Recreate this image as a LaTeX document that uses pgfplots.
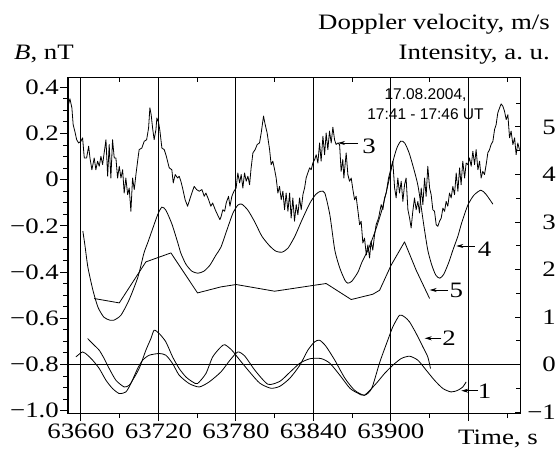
\documentclass[border=0pt]{standalone}
\usepackage{fontspec}
\setmainfont{Liberation Serif}[FakeStretch=1.22]
\newfontfamily\sansfont{Liberation Sans}
\usepackage{pgfplots}
\pgfplotsset{compat=1.18}
\usetikzlibrary{arrows.meta}
\begin{document}
\fontsize{22pt}{26pt}\selectfont
\begin{tikzpicture}
\path[use as bounding box] (-68pt,-37pt) rectangle (488pt,413pt);
\begin{axis}[
  at={(0pt,0pt)}, anchor=south west,
  width=452pt, height=335pt, scale only axis,
  xmin=63650, xmax=64000, ymin=-1.01, ymax=0.44,
  scaled x ticks=false, scaled y ticks=false,
  xtick={63660,63720,63780,63840,63900,63960},
  xticklabels={63660,63720,63780,63840,63900,{}},
  minor xtick={63690,63750,63810,63870,63930,63990},
  ytick={-1,-0.8,-0.6,-0.4,-0.2,0,0.2,0.4},
  yticklabels={−1.0,−0.8,−0.6,−0.4,−0.2,0,0.2,0.4},
  minor ytick={-0.95,-0.9,-0.85,-0.75,-0.7,-0.65,-0.55,-0.5,-0.45,-0.35,-0.3,-0.25,-0.15,-0.1,-0.05,0.05,0.1,0.15,0.25,0.3,0.35},
  xtick pos=left, ytick pos=left,
  tick align=outside,
  major tick length=8pt, minor tick length=5pt,
  tick style={black, line width=0.9pt},
  axis line style={black, line width=1pt},
  xmajorgrids, major grid style={black, line width=1pt},
  yticklabel style={anchor=east, inner sep=0pt, xshift=-1pt},
  xticklabel style={anchor=north, inner sep=0pt, yshift=-3pt},
]
\addplot[black, line width=1.6pt, forget plot] coordinates {(63650,-0.8) (64000,-0.8)};
% curve 3 (B)
\addplot[black, line width=0.8pt, line join=round] coordinates {
(63650.3,0.324) (63651.5,0.350) (63653.0,0.311) (63654.0,0.238) (63655.6,0.202) (63656.7,0.173) (63658.2,0.159) (63660.0,0.166) (63661.3,0.181) (63662.6,0.094) (63664.4,0.094) (63666.0,0.145) (63667.0,0.094) (63668.5,0.043) (63670.3,0.094) (63671.6,0.043) (63672.9,0.080) (63674.2,0.058) (63675.5,0.101) (63676.8,0.065) (63678.0,0.116) (63679.4,0.173) (63680.7,0.015) (63681.9,0.152) (63683.2,0.007) (63684.5,0.173) (63685.8,0.094) (63687.1,0.094) (63688.4,0.007) (63689.7,0.058) (63691.0,0.007) (63692.3,0.043) (63693.5,-0.058) (63694.8,0.007) (63696.2,-0.065) (63697.4,-0.036) (63698.7,-0.137) (63700.0,0.007) (63701.3,-0.043) (63702.6,0.022) (63703.9,0.080) (63705.1,0.130) (63707.2,0.137) (63709.0,0.166) (63710.9,0.173) (63712.4,0.224) (63713.4,0.311) (63714.4,0.281) (63715.5,0.224) (63716.7,0.173) (63718.1,0.217) (63718.8,0.267) (63720.2,0.246) (63721.2,0.210) (63722.7,0.137) (63724.5,0.130) (63725.8,0.108) (63728.4,0.051) (63730.4,0.043) (63731.5,-0.014) (63733.0,0.022) (63734.9,0.007) (63736.1,0.015) (63737.4,-0.007) (63738.7,-0.036) (63740.7,-0.087) (63742.6,-0.115) (63743.8,-0.094) (63745.9,-0.058) (63747.7,-0.029) (63749.6,-0.043) (63751.6,-0.050) (63753.7,-0.043) (63755.5,-0.072) (63756.8,-0.058) (63758.9,-0.087) (63760.6,-0.115) (63762.0,-0.101) (63764.0,-0.130) (63765.8,-0.152) (63767.6,-0.173) (63768.6,-0.159) (63769.9,-0.130) (63771.3,-0.137) (63772.5,-0.101) (63774.3,-0.072) (63775.4,-0.115) (63776.9,-0.072) (63778.5,-0.050) (63780.2,-0.036) (63781.5,0.029) (63782.9,-0.014) (63784.1,0.022) (63785.4,-0.036) (63786.7,0.029) (63788.0,-0.007) (63789.3,0.015) (63790.6,-0.022) (63791.8,0.051) (63793.2,0.116) (63794.9,0.130) (63796.5,0.152) (63798.3,0.159) (63799.6,0.202) (63801.4,0.275) (63802.7,0.238) (63804.2,0.202) (63806.1,0.130) (63807.3,0.065) (63808.6,0.080) (63810.0,0.043) (63811.2,0.007) (63812.5,-0.058) (63813.8,-0.029) (63815.1,-0.087) (63816.4,-0.050) (63817.7,-0.130) (63818.9,-0.058) (63820.3,-0.137) (63821.6,-0.058) (63822.8,-0.166) (63824.1,-0.079) (63825.4,-0.180) (63826.7,-0.108) (63828.0,-0.152) (63829.3,-0.079) (63830.6,-0.130) (63831.9,-0.065) (63833.2,-0.036) (63834.4,0.007) (63835.7,0.029) (63837.1,0.051) (63838.3,0.043) (63839.6,0.072) (63841.0,0.087) (63842.2,0.108) (63843.5,0.072) (63844.8,0.159) (63846.0,0.080) (63847.4,0.188) (63848.7,0.108) (63849.9,0.202) (63851.2,0.130) (63852.5,0.210) (63853.8,0.159) (63855.1,0.227) (63856.4,0.173) (63857.6,0.152) (63859.0,0.159) (63860.3,0.152) (63861.5,0.036) (63862.8,0.087) (63863.6,0.007) (63865.4,0.116) (63866.7,0.022) (63868.0,-0.007) (63869.3,0.007) (63870.6,-0.043) (63871.9,-0.087) (63873.1,-0.072) (63874.4,-0.130) (63875.8,-0.195) (63877.0,-0.180) (63878.3,-0.274) (63879.6,-0.253) (63881.0,-0.326) (63882.2,-0.283) (63883.5,-0.339) (63884.7,-0.267) (63886.0,-0.305) (63887.4,-0.238) (63888.6,-0.195) (63890.5,-0.166) (63892.5,-0.108) (63893.8,-0.130) (63895.1,-0.079) (63896.4,-0.058) (63898.2,0.007) (63900.2,0.051) (63901.5,0.080) (63902.9,-0.036) (63904.1,-0.079) (63905.4,0.007) (63906.7,-0.058) (63908.0,-0.007) (63909.3,-0.094) (63910.6,-0.022) (63911.8,0.007) (63913.2,-0.130) (63914.5,-0.166) (63915.7,-0.209) (63917.0,-0.137) (63918.3,-0.079) (63919.6,-0.130) (63920.9,-0.094) (63922.2,-0.144) (63923.5,-0.036) (63924.8,-0.108) (63926.1,0.007) (63927.3,-0.072) (63928.6,0.058) (63930.0,-0.036) (63931.2,-0.065) (63932.5,-0.130) (63933.8,-0.137) (63935.1,-0.195) (63936.4,-0.202) (63937.7,-0.180) (63939.0,-0.166) (63940.3,-0.123) (63941.6,-0.137) (63942.8,-0.094) (63944.1,-0.115) (63945.4,-0.058) (63946.7,-0.079) (63948.0,-0.029) (63949.3,-0.065) (63950.6,0.029) (63951.9,-0.050) (63953.2,0.051) (63954.4,-0.022) (63955.7,0.080) (63957.1,0.007) (63958.3,0.072) (63959.6,0.065) (63960.9,0.094) (63962.2,0.058) (63963.5,0.123) (63964.8,0.065) (63966.0,0.130) (63967.4,0.043) (63968.7,0.080) (63969.9,0.007) (63971.2,0.036) (63972.5,0.022) (63973.8,0.065) (63975.1,0.116) (63976.4,0.130) (63977.6,0.152) (63979.0,0.166) (63980.3,0.217) (63981.5,0.238) (63982.8,0.289) (63984.2,0.311) (63985.4,0.328) (63986.7,0.318) (63988.0,0.296) (63989.3,0.260) (63990.6,0.281) (63991.9,0.181) (63993.1,0.210) (63994.5,0.152) (63995.8,0.181) (63997.0,0.108) (63998.3,0.159) (63999.6,0.130)
};
\end{axis}
\begin{axis}[
  at={(0pt,0pt)}, anchor=south west,
  width=452pt, height=335pt, scale only axis,
  xmin=63650, xmax=64000, ymin=-1.02, ymax=6.03,
  scaled x ticks=false, scaled y ticks=false,
  xtick={63660,63720,63780,63840,63900,63960},
  minor xtick={63690,63750,63810,63870,63930,63990},
  xticklabels={,,,,,},
  ytick={-1,0,1,2,3,4,5},
  yticklabels={−1,0,1,2,3,4,5},
  minor ytick={-0.5,0.5,1.5,2.5,3.5,4.5,5.5},
  xtick pos=right, ytick pos=right,
  tick align=inside,
  major tick length=5pt, minor tick length=4pt,
  tick style={black, line width=0.9pt},
  axis line style={black, line width=1pt},
  yticklabel style={anchor=east, inner sep=0pt, xshift=36pt},
]
% curve 4
\addplot[black, line width=0.8pt, smooth, tension=0.4] coordinates {
(63661.5,2.806) (63663.1,2.512) (63665.4,2.048) (63669.3,1.564) (63673.2,1.206) (63677.8,0.996) (63682.5,0.933) (63685.5,0.933) (63691.0,1.038) (63697.2,1.354) (63704.1,1.838) (63708.8,2.343) (63711.9,2.575) (63715.7,2.870) (63719.6,3.164) (63722.7,3.312) (63725.8,3.248) (63730.5,2.954) (63735.1,2.554) (63737.4,2.343) (63741.3,2.112) (63745.9,1.964) (63750.6,1.922) (63755.2,1.964) (63759.9,2.091) (63764.5,2.301) (63768.4,2.469) (63773.0,2.827) (63777.7,3.185) (63781.5,3.354) (63784.6,3.375) (63789.3,3.248) (63794.7,2.996) (63800.1,2.701) (63806.3,2.491) (63811.0,2.385) (63815.6,2.364) (63820.3,2.448) (63825.7,2.701) (63831.1,3.038) (63837.3,3.396) (63842.0,3.585) (63845.8,3.648) (63848.9,3.606) (63852.8,3.143) (63856.6,2.406) (63860.5,2.027) (63864.4,1.775) (63866.7,1.712) (63869.8,1.754) (63874.5,1.943) (63877.6,2.154) (63882.2,2.406) (63887.6,2.785) (63893.0,3.248) (63897.7,3.775) (63901.5,4.259) (63904.6,4.554) (63907.7,4.701) (63910.8,4.659) (63914.7,4.406) (63920.9,3.775) (63925.5,2.933) (63928.6,2.406) (63931.7,2.091) (63934.8,1.880) (63937.9,1.817) (63941.0,1.901) (63944.9,2.154) (63948.0,2.406) (63951.9,2.701) (63955.0,2.996) (63959.6,3.354) (63964.3,3.564) (63969.7,3.669) (63973.6,3.585) (63979.0,3.375)
};
% curve 5
\addplot[black, line width=0.8pt, line join=round] coordinates {
(63670.3,1.389) (63689.7,1.297) (63710.3,2.160) (63729.7,2.349) (63750.3,1.507) (63768.4,1.634) (63780.2,1.684) (63810.0,1.543) (63840.9,1.669) (63849.9,1.705) (63869.3,1.368) (63886.1,1.480) (63891.3,1.564) (63900.2,2.091) (63910.6,2.581) (63919.6,1.985) (63930.0,1.389)
};
% curve 1
\addplot[black, line width=0.8pt, smooth, tension=0.4] coordinates {
(63656.1,0.160) (63661.3,0.265) (63665.2,0.196) (63669.1,0.091) (63674.2,-0.084) (63679.4,-0.331) (63684.5,-0.505) (63689.7,-0.611) (63694.8,-0.577) (63698.7,-0.400) (63703.9,-0.084) (63707.8,0.091) (63712.9,0.196) (63720.6,0.232) (63725.8,0.196) (63731.0,0.021) (63736.1,-0.225) (63743.8,-0.400) (63751.6,-0.472) (63759.3,-0.366) (63768.4,-0.156) (63775.4,0.091) (63781.5,0.265) (63787.0,0.175) (63794.7,-0.120) (63804.8,-0.415) (63814.1,-0.352) (63821.8,-0.162) (63829.5,0.027) (63837.3,0.122) (63846.0,0.126) (63852.8,0.027) (63860.5,-0.225) (63868.3,-0.499) (63874.5,-0.604) (63879.6,-0.646) (63888.6,-0.400) (63895.1,-0.189) (63901.5,-0.015) (63908.0,0.126) (63914.5,0.175) (63920.9,0.091) (63927.4,-0.120) (63933.8,-0.331) (63940.3,-0.505) (63946.7,-0.577) (63951.9,-0.541) (63955.7,-0.472) (63958.3,-0.366)
};
% curve 2
\addplot[black, line width=0.8pt, smooth, tension=0.4] coordinates {
(63665.2,0.547) (63670.3,0.406) (63674.2,0.301) (63678.0,0.126) (63681.9,-0.084) (63687.1,-0.331) (63693.5,-0.472) (63697.4,-0.436) (63700.0,-0.331) (63705.1,-0.084) (63710.3,0.301) (63714.2,0.547) (63716.7,0.722) (63720.6,0.653) (63725.8,0.476) (63731.0,0.160) (63736.1,-0.084) (63741.3,-0.261) (63746.5,-0.366) (63750.3,-0.400) (63756.8,-0.189) (63762.0,0.160) (63768.4,0.371) (63771.5,0.417) (63776.9,0.301) (63783.1,0.091) (63790.8,-0.162) (63798.6,-0.394) (63807.1,-0.499) (63814.1,-0.457) (63821.8,-0.288) (63829.5,-0.015) (63835.7,0.301) (63840.9,0.476) (63844.8,0.512) (63849.7,0.385) (63856.6,0.091) (63864.4,-0.288) (63871.9,-0.541) (63879.6,-0.646) (63885.2,-0.499) (63891.4,0.048) (63897.6,0.512) (63901.5,0.792) (63906.7,1.038) (63910.6,1.002) (63914.5,0.897) (63919.6,0.653) (63924.8,0.371) (63928.6,0.160) (63930.7,-0.084)
};
\end{axis}
% titles
\node[anchor=base] at (-24pt,353pt) {\textit{B}, nT};
\node[anchor=base east, inner sep=0pt] at (482pt,383pt) {Doppler velocity, m/s};
\node[anchor=base east, inner sep=0pt] at (482pt,353.7pt) {Intensity, a.\ u.};
\node[anchor=base] at (430pt,-31pt) {Time, s};
\node[font=\sansfont\fontsize{15.5pt}{20pt}\selectfont, align=center] at (357.5pt,309pt) {17.08.2004,\\17:41 - 17:46 UT};
% curve labels
\tikzset{lab/.style={-{Stealth[length=7pt,width=4pt]}, line width=0.7pt}}
\draw[lab] (290pt,270pt) -- (270pt,270pt);
\node at (301pt,267pt) {3};
\draw[lab] (406.7pt,167pt) -- (388.3pt,167pt);
\node at (416.7pt,164pt) {4};
\draw[lab] (380pt,123pt) -- (361.7pt,123pt);
\node at (388.3pt,123pt) {5};
\draw[lab] (373.3pt,74.7pt) -- (356.7pt,74.7pt);
\node at (381pt,74.7pt) {2};
\draw[lab] (410pt,22.3pt) -- (393.3pt,22.3pt);
\node at (416.7pt,21.3pt) {1};
\end{tikzpicture}
\end{document}
